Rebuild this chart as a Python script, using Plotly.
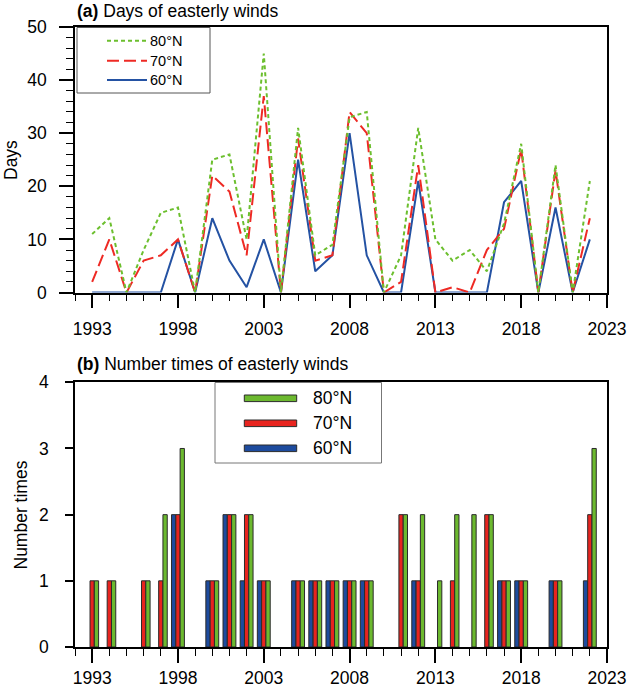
import plotly.graph_objects as go

years = list(range(1993, 2023))

# (a) Days of easterly winds
days_80N = [11, 14, 0, 8, 15, 16, 0, 25, 26, 10, 45, 0, 31, 7, 9,
            33, 34, 0, 7, 31, 10, 6, 8, 4, 13, 28, 0, 24, 0, 21]
days_70N = [2, 10, 0, 6, 7, 10, 0, 22, 19, 7, 37, 0, 29, 6, 7,
            34, 30, 0, 2, 24, 0, 1, 0, 8, 12, 27, 0, 23, 0, 14]
days_60N = [0, 0, 0, 0, 0, 10, 0, 14, 6, 1, 10, 0, 25, 4, 7,
            30, 7, 0, 0, 21, 0, 0, 0, 0, 17, 21, 0, 16, 0, 10]

# (b) Number times of easterly winds
times_80N = [1, 1, 0, 1, 2, 3, 0, 1, 2, 2, 1, 0, 1, 1, 1,
             1, 1, 0, 2, 2, 1, 2, 2, 2, 1, 1, 0, 1, 0, 3]
times_70N = [1, 1, 0, 1, 1, 2, 0, 1, 2, 2, 1, 0, 1, 1, 1,
             1, 1, 0, 2, 1, 0, 1, 0, 2, 1, 1, 0, 1, 0, 2]
times_60N = [0, 0, 0, 0, 0, 2, 0, 1, 2, 1, 1, 0, 1, 1, 1,
             1, 1, 0, 0, 1, 0, 0, 0, 0, 1, 1, 0, 1, 0, 1]

names = ["80°N", "70°N", "60°N"]
line_colors = ["#6cbf2e", "#ee2a24", "#2452a3"]
bar_colors = ["#6cb92f", "#e8241f", "#1d4b9e"]
line_dashes = ["4px,3px", "12px,5px", "solid"]

FONT = "Liberation Sans, Arial, Helvetica, sans-serif"
W, H = 628, 688
ML, MR, MT, MB = 75, 21, 27, 41
PW, PH = W - ML - MR, H - MT - MB


def px(xp):
    return (xp - ML) / PW


def py(yp):
    return (H - MB - yp) / PH


fig = go.Figure()

# top panel lines (draw blue, red, green order)
for vals, i in [(days_60N, 2), (days_70N, 1), (days_80N, 0)]:
    fig.add_trace(go.Scatter(
        x=years, y=vals, mode="lines", name=names[i],
        line=dict(color=line_colors[i], width=2, dash=line_dashes[i]),
        xaxis="x", yaxis="y", showlegend=False))

# bottom panel bars (blue, red, green left-to-right)
for vals, i in [(times_60N, 2), (times_70N, 1), (times_80N, 0)]:
    fig.add_trace(go.Bar(
        x=years, y=[v if v > 0 else None for v in vals], name=names[i],
        marker=dict(color=bar_colors[i], line=dict(color="#2a2a2a", width=1)),
        xaxis="x2", yaxis="y2", showlegend=False))

tickfont = dict(family=FONT, size=17.5, color="black")


def xaxis_style(standoff):
    return dict(range=[1992, 2023], tick0=1993, dtick=5, ticks="outside",
                ticklen=14, tickwidth=1.5, tickcolor="black",
                minor=dict(ticks="outside", ticklen=7, tick0=1993, dtick=1,
                           tickwidth=1, tickcolor="black", showgrid=False),
                showline=True, linewidth=1.5, linecolor="black", mirror=True,
                showgrid=False, zeroline=False, tickfont=tickfont,
                ticklabelstandoff=standoff, automargin=False)


fig.update_layout(
    width=W, height=H,
    margin=dict(l=ML, r=MR, t=MT, b=MB, autoexpand=False),
    paper_bgcolor="white", plot_bgcolor="white",
    font=dict(family=FONT, color="black"),
    barmode="group", bargap=0.25, bargroupgap=0,
    xaxis=dict(anchor="y", domain=[0, 1], **xaxis_style(6)),
    xaxis2=dict(anchor="y2", domain=[0, 1], **xaxis_style(0)),
    yaxis=dict(anchor="x", domain=[py(292.5), 1], range=[0, 50], tick0=0,
               dtick=10, ticks="outside", ticklen=14, tickwidth=1.5,
               tickcolor="black",
               minor=dict(ticks="outside", ticklen=7, dtick=2, tick0=0,
                          tickwidth=1, tickcolor="black", showgrid=False),
               showline=True, linewidth=1.5, linecolor="black", mirror=True,
               showgrid=False, zeroline=False, tickfont=tickfont,
               ticklabelstandoff=9, automargin=False),
    yaxis2=dict(anchor="x2", domain=[0, py(382.3)], range=[0, 4], tick0=0,
                dtick=1, ticks="outside", ticklen=8, tickwidth=1.5,
                tickcolor="black",
                showline=True, linewidth=1.5, linecolor="black", mirror=True,
                showgrid=False, zeroline=False, tickfont=tickfont,
                ticklabelstandoff=13, automargin=False),
)

shapes = []
annotations = []

# panel titles
annotations.append(dict(text="<b>(a)</b> Days of easterly winds", xref="paper", yref="paper",
                        x=0, y=py(11), xanchor="left", yanchor="middle", showarrow=False,
                        font=dict(family=FONT, size=17.5, color="black")))
annotations.append(dict(text="<b>(b)</b> Number times of easterly winds", xref="paper", yref="paper",
                        x=0, y=py(364), xanchor="left", yanchor="middle", showarrow=False,
                        font=dict(family=FONT, size=17.5, color="black")))
# y titles
annotations.append(dict(text="Days", xref="paper", yref="paper", x=px(11), y=py(160),
                        xanchor="center", yanchor="middle", textangle=-90, showarrow=False,
                        font=dict(family=FONT, size=17.5, color="black")))
annotations.append(dict(text="Number times", xref="paper", yref="paper", x=px(20.5), y=py(515),
                        xanchor="center", yanchor="middle", textangle=-90, showarrow=False,
                        font=dict(family=FONT, size=17.5, color="black")))

# legend (a)
shapes.append(dict(type="rect", xref="paper", yref="paper", x0=px(77), x1=px(210),
                   y0=py(93), y1=py(27.5), line=dict(color="#555555", width=1),
                   fillcolor="white", layer="above"))
for k, yy in enumerate([40.7, 60.7, 80.0]):
    shapes.append(dict(type="line", xref="paper", yref="paper", x0=px(107), x1=px(147),
                       y0=py(yy), y1=py(yy), layer="above",
                       line=dict(color=line_colors[k], width=2, dash=line_dashes[k])))
    annotations.append(dict(text=names[k], xref="paper", yref="paper", x=px(147.5), y=py(yy),
                            xanchor="left", yanchor="middle", showarrow=False,
                            font=dict(family=FONT, size=14.5, color="black")))

# legend (b)
shapes.append(dict(type="rect", xref="paper", yref="paper", x0=px(215), x1=px(381.5),
                   y0=py(463), y1=py(382.5), line=dict(color="#777777", width=1),
                   fillcolor="white", layer="above"))
for k, yy in enumerate([398.3, 423.3, 448.3]):
    shapes.append(dict(type="rect", xref="paper", yref="paper", x0=px(244.3), x1=px(296.7),
                       y0=py(yy + 3.3), y1=py(yy - 3.3), layer="above",
                       fillcolor=bar_colors[k], line=dict(color="#2a2a2a", width=1)))
    annotations.append(dict(text=names[k], xref="paper", yref="paper", x=px(310.5), y=py(yy),
                            xanchor="left", yanchor="middle", showarrow=False,
                            font=dict(family=FONT, size=17.5, color="black")))

fig.update_layout(shapes=shapes, annotations=annotations)

fig.write_html(
    "out.html",
    config={"displayModeBar": False},
    post_script="document.body.style.margin='0px';document.body.style.padding='0px';"
                "document.documentElement.style.overflow='hidden';",
)
